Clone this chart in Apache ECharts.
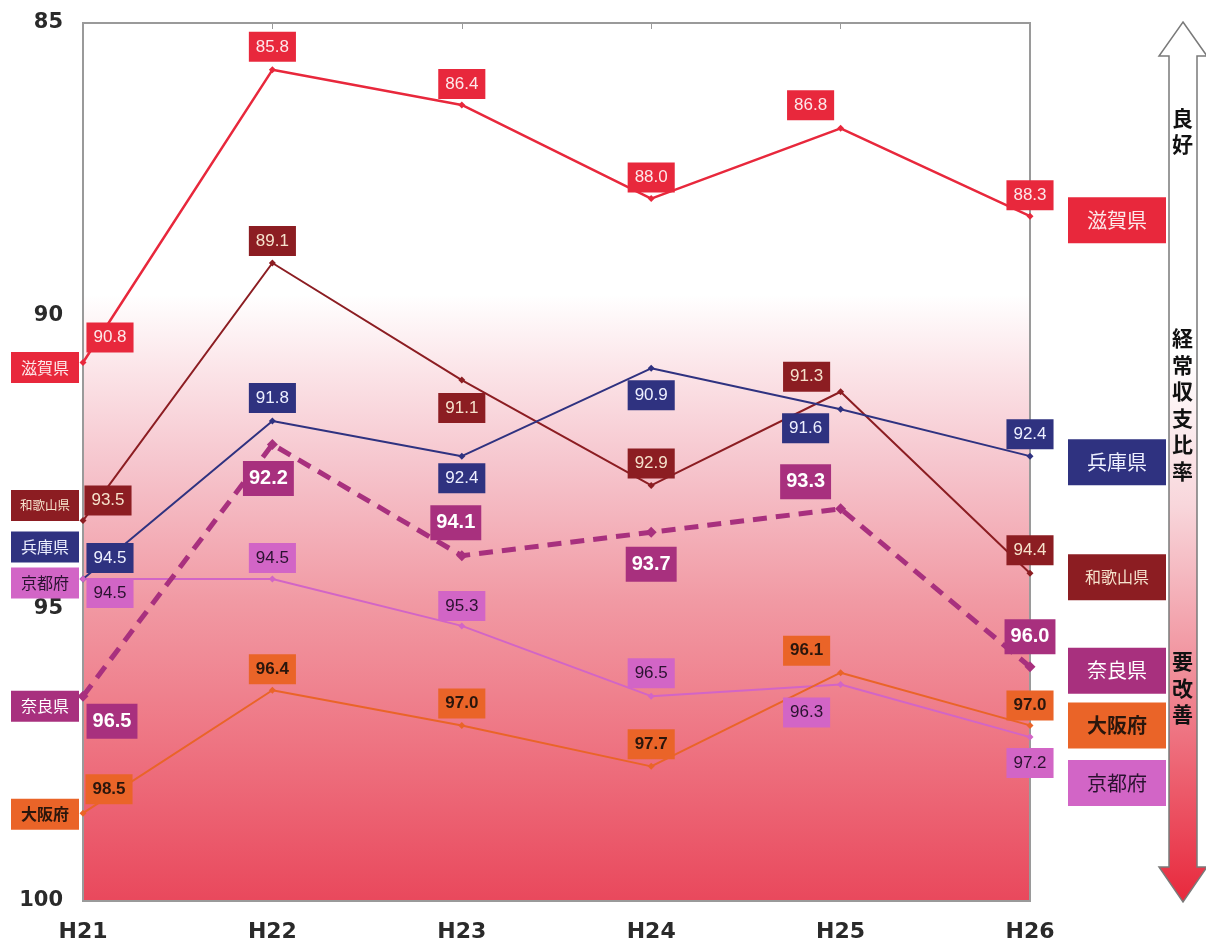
<!DOCTYPE html>
<html><head><meta charset="utf-8">
<script src="https://cdn.jsdelivr.net/npm/echarts@6/dist/echarts.min.js"></script>
<style>html,body{margin:0;padding:0;background:#fff}#c{width:1206px;height:943px}</style>
</head><body><div id="c"></div>
<script>
// ---- data ----
const categories = ['H21','H22','H23','H24','H25','H26'];
const yTicks = [85, 90, 95, 100];
const shiga    = [90.8, 85.8, 86.4, 88.0, 86.8, 88.3];
const wakayama = [93.5, 89.1, 91.1, 92.9, 91.3, 94.4];
const hyogo    = [94.5, 91.8, 92.4, 90.9, 91.6, 92.4];
const kyoto    = [94.5, 94.5, 95.3, 96.5, 96.3, 97.2];
const nara     = [96.5, 92.2, 94.1, 93.7, 93.3, 96.0];
const osaka    = [98.5, 96.4, 97.0, 97.7, 96.1, 97.0];

// ---- styling (label offsets etc.) ----
const FONT = "'Liberation Sans', Arial, sans-serif";
const AXF = "'DejaVu Sans', sans-serif";
const JP = "'Noto Sans CJK JP', sans-serif";
const defs = [
  {name:'滋賀県', values:shiga, color:'#e8283c', text:'#fde8ea', lw:2.5,
   offs:[[27,-25],[0,-23],[0,-21],[0,-21],[-30,-23],[0,-21]], left:[-38,5], right:[87,4], lfs:16},
  {name:'和歌山県', values:wakayama, color:'#8c1d22', text:'#f6e2cc', lw:2,
   offs:[[25,-20],[0,-22],[0,28],[0,-22],[-34,-15],[0,-23]], left:[-38,-15], right:[87,4], lfs:12.5},
  {name:'兵庫県', values:hyogo, color:'#2f3280', text:'#eef0ff', lw:2,
   offs:[[27,-21],[0,-23],[0,22],[0,27],[-35,19],[0,-22]], left:[-38,-32], right:[87,6], lfs:16},
  {name:'京都府', values:kyoto, color:'#d265c6', text:'#2a1230', lw:2,
   offs:[[27,14],[0,-21],[0,-20],[0,-23],[-34,28],[0,26]], left:[-38,4], right:[87,46], lfs:16},
  {name:'大阪府', values:osaka, color:'#ea6428', text:'#2a160c', lw:2, bold:true,
   offs:[[26,-24],[0,-21],[0,-22],[0,-22],[-34,-22],[0,-20]], left:[-38,1], right:[87,0], lfs:16},
  {name:'奈良県', values:nara, color:'#a8307e', text:'#ffffff', lw:5, dashed:true, big:true,
   offs:[[29,25],[-4,34],[-6,-33],[0,32],[-35,-27],[0,-30]], left:[-38,10], right:[87,4], lfs:16}
];

const series = defs.map(d => ({
  name: d.name,
  type: 'line',
  z: d.dashed ? 3 : 2,
  data: d.values.map((v, i) => ({value: v, label: {offset: d.offs[i]}})),
  lineStyle: {color: d.color, width: d.lw, type: d.dashed ? [14, 9] : 'solid'},
  itemStyle: {color: d.color},
  symbol: 'diamond',
  symbolSize: d.dashed ? 11 : 7,
  label: {
    show: true, position: 'inside',
    formatter: p => Number(p.value).toFixed(1),
    backgroundColor: d.color, color: d.text,
    fontFamily: FONT,
    fontSize: d.big ? 20 : 17,
    fontWeight: (d.big || d.bold) ? 'bold' : 'normal',
    padding: d.big ? [8, 6, 7, 6] : [7, 7, 6, 7]
  },
  markPoint: {
    symbol: 'circle', symbolSize: 1,
    itemStyle: {color: 'rgba(0,0,0,0)'},
    silent: true,
    data: [
      {coord: [0, d.values[0]], label: {
        show: true, position: 'inside', offset: d.left, formatter: d.name,
        backgroundColor: d.color, color: d.text, fontFamily: JP,
        fontSize: d.lfs, fontWeight: d.bold ? 'bold' : 'normal',
        width: 68, height: 31, lineHeight: 31, align: 'center', verticalAlign: 'middle', padding: 0
      }},
      {coord: [5, d.values[5]], label: {
        show: true, position: 'inside', offset: d.right, formatter: d.name,
        backgroundColor: d.color, color: d.text, fontFamily: JP,
        fontSize: d.name.length > 3 ? 16 : 20, fontWeight: d.bold ? 'bold' : 'normal',
        width: 98, height: 46, lineHeight: 46, align: 'center', verticalAlign: 'middle', padding: 0
      }}
    ]
  }
}));

const chart = echarts.init(document.getElementById('c'), null, {renderer: 'canvas'});
const bg = new echarts.graphic.LinearGradient(0, 0, 0, 1, [
  {offset: 0, color: '#ffffff'},
  {offset: 0.31, color: '#ffffff'},
  {offset: 0.40, color: '#fbe3e7'},
  {offset: 0.50, color: '#f6c6ce'},
  {offset: 0.66, color: '#f199a3'},
  {offset: 0.82, color: '#ee7482'},
  {offset: 1, color: '#e9485c'}
]);
const arrowFill = new echarts.graphic.LinearGradient(0, 0, 0, 1, [
  {offset: 0, color: '#ffffff'},
  {offset: 0.38, color: '#ffffff'},
  {offset: 0.55, color: '#f8d6db'},
  {offset: 0.75, color: '#f08a96'},
  {offset: 1, color: '#e8283c'}
]);

chart.setOption({
  animation: false,
  backgroundColor: '#ffffff',
  grid: {left: 83, right: 176, top: 23, bottom: 40, show: true,
         backgroundColor: bg, borderColor: '#9a9a9a', borderWidth: 2},
  xAxis: [{
    type: 'category', data: categories, boundaryGap: false,
    axisLine: {show: true, lineStyle: {color: '#9a9a9a', width: 2}},
    axisTick: {show: false},
    axisLabel: {color: '#2a2a2a', fontSize: 22, fontWeight: 'bold', fontFamily: AXF, margin: 20}
  }, {
    type: 'category', data: categories, boundaryGap: false, position: 'top',
    axisLine: {show: true, lineStyle: {color: '#9a9a9a', width: 2}},
    axisTick: {show: true, inside: true, length: 6, lineStyle: {color: '#9a9a9a'}},
    axisLabel: {show: false}
  }],
  yAxis: {
    type: 'value', inverse: true, min: yTicks[0], max: yTicks[yTicks.length - 1], interval: 5,
    axisLine: {show: true, lineStyle: {color: '#9a9a9a', width: 2}},
    axisTick: {show: false},
    splitLine: {show: false},
    axisLabel: {color: '#2a2a2a', fontSize: 21, fontWeight: 'bold', fontFamily: AXF, margin: 20,
                padding: [6, 0, 0, 0]}
  },
  series: series,
  graphic: [
    {type: 'polygon', z: 10,
     shape: {points: [[1183,22],[1207,56],[1197,56],[1197,867],[1207,867],[1183,902],[1159,867],[1169,867],[1169,56],[1159,56]]},
     style: {fill: arrowFill, stroke: '#7a7a7a', lineWidth: 1.5}},
    {type: 'text', z: 11, left: 1172, top: 105,
     style: {text: '良\n好', font: 'bold 21px ' + JP, fill: '#111', lineHeight: 26}},
    {type: 'text', z: 11, left: 1172, top: 325,
     style: {text: '経\n常\n収\n支\n比\n率', font: 'bold 21px ' + JP, fill: '#111', lineHeight: 26.5}},
    {type: 'text', z: 11, left: 1172, top: 648,
     style: {text: '要\n改\n善', font: 'bold 21px ' + JP, fill: '#111', lineHeight: 26.5}}
  ]
});
</script></body></html>
